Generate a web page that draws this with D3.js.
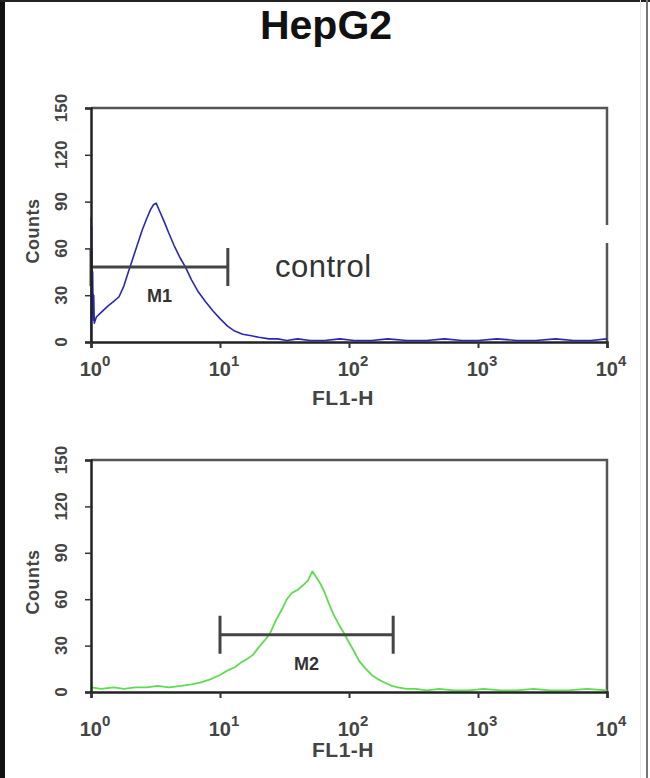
<!DOCTYPE html>
<html><head><meta charset="utf-8">
<script src="https://cdn.jsdelivr.net/npm/d3@7"></script>
<style>
html,body{margin:0;padding:0;background:#fff;}
svg{display:block;font-family:"Liberation Sans",Arial,sans-serif;}
</style></head><body>
<script>
// ---------- data ----------
const title = "HepG2";
const yTicks = [0, 30, 60, 90, 120, 150];
const yMinorTicks = [0,5,10,15,20,25,30,35,40,45,50,55,60,65,70,75,80,85,90,95,100,105,110,115,120,125,130,135,140,145,150];
const xTicks = [1, 10, 100, 1000, 10000];
const xTickExponents = ["0", "1", "2", "3", "4"];
const xMinorTicks = [2,3,4,5,6,7,8,9,20,30,40,50,60,70,80,90,200,300,400,500,600,700,800,900,2000,3000,4000,5000,6000,7000,8000,9000];
const xLabel = "FL1-H";
const yLabel = "Counts";

// control histogram (FL1-H intensity, counts)
const controlX = [1.00,1.004,1.008,1.012,1.016,1.02,1.025,1.03,1.04,1.05,1.06,1.1,1.2,1.35,1.5,1.65,1.8,1.95,2.1,2.3,2.5,2.7,2.9,3.05,3.2,3.4,3.7,4.0,4.4,4.9,5.4,6.0,6.8,7.7,8.8,10,11.5,13,15,17.5,20,24,28,33,40,50,65,85,110,150,200,280,400,550,750,1000,1400,2000,2800,4000,5500,7500,10000];
const controlY = [0,80,30,74,22,58,18,45,14,30,12,16,19,23,26,29,36,45,53,63,72,79,85,88,89,84,77,70,62,54,48,40,32,26,20,15,10,7,5,4,3,2,2,1,2,1,1,2,1,1,2,1,1,2,1,1,2,1,1,2,1,1,2];
const controlMarker = {label: "M1", from: 1, to: 11.5, level: 48};
const controlText = "control";

// stained histogram
const sampleX = [1,1.2,1.5,1.8,2.2,2.7,3.3,4,5,6,7,8.3,10,11.5,13,14.5,16,18,20,22,24.5,27,30,33,36,40,44,48,52,56,60,65,70,76,83,90,100,110,120,135,150,170,190,215,240,280,330,400,500,650,850,1100,1500,2000,2700,3600,5000,7000,10000];
const sampleY = [3,2,3,2,3,3,4,3,4,5,6,8,11,14,16,19,21,24,29,33,38,46,53,60,64,66,69,72,78,74,70,64,57,50,44,39,32,26,20,15,11,8,6,4,3,2,2,1,2,1,1,2,1,1,2,1,1,2,1];
const sampleMarker = {label: "M2", from: 10, to: 220, level: 37};

// ---------- drawing ----------
const W = 650, H = 778;
const svg = d3.select("body").append("svg").attr("width", W).attr("height", H);

// outer frame of the picture
svg.append("rect").attr("x",0).attr("y",0).attr("width",5).attr("height",H).attr("fill","#111");
svg.append("rect").attr("x",0).attr("y",0).attr("width",W).attr("height",2).attr("fill","#222");
svg.append("rect").attr("x",646).attr("y",0).attr("width",2).attr("height",H).attr("fill","#777");
svg.append("rect").attr("x",640).attr("y",0).attr("width",1).attr("height",H).attr("fill","#e6e6e6");

svg.append("text").attr("x",326).attr("y",39).attr("text-anchor","middle")
  .attr("font-size",41).attr("font-weight","bold").attr("fill","#111").text(title);

function panel(cfg){
  const left = 91, right = 607, top = cfg.top, bottom = cfg.bottom;
  const x = d3.scaleLog().domain([1,10000]).range([left,right]);
  const y = d3.scaleLinear().domain([0,150]).range([bottom,top]);
  const g = svg.append("g");

  // top and right frame
  g.append("path").attr("d",`M${left},${top}H${right}V${bottom}`)
    .attr("fill","none").attr("stroke","#555").attr("stroke-width",2.5);

  // histogram
  const data = cfg.xs.map((v,i)=>({v, c: cfg.ys[i]}));
  g.append("path").datum(data)
    .attr("d", d3.line().x(d=>x(d.v)).y(d=>y(d.c)))
    .attr("fill","none").attr("stroke",cfg.color).attr("stroke-width",cfg.width).attr("stroke-linejoin","round");

  // marker
  const m = cfg.marker, my = y(m.level);
  g.append("path").attr("d",`M${x(m.from)},${my}H${x(m.to)}M${x(m.from)},${my-19}V${my+19}M${x(m.to)},${my-19}V${my+19}`)
    .attr("fill","none").attr("stroke","#444").attr("stroke-width",3);
  g.append("text").attr("x",(x(m.from)+x(m.to))/2 + (cfg.labelShift||0)).attr("y",my+35)
    .attr("text-anchor","middle").attr("font-size",18).attr("font-weight","bold").attr("fill","#333").text(m.label);

  // y axis
  const ya = g.append("g").attr("transform",`translate(${left},0)`);
  ya.call(d3.axisLeft(y).tickValues(yMinorTicks).tickSize(3).tickFormat(""));
  ya.call(d3.axisLeft(y).tickValues(yTicks).tickSize(6).tickFormat(""));
  ya.selectAll("path.domain").attr("stroke","#222").attr("stroke-width",2.5);
  ya.selectAll(".tick line").attr("stroke","#333").attr("stroke-width",1.5);
  g.selectAll(".ylab").data(yTicks).enter().append("text")
    .attr("transform",d=>`translate(67,${y(d)}) rotate(-90)`)
    .attr("text-anchor","middle").attr("font-size",17).attr("font-weight","bold").attr("fill","#444").text(d=>d);
  g.append("text").attr("transform",`translate(39,${(top+bottom)/2+6}) rotate(-90)`)
    .attr("text-anchor","middle").attr("font-size",18).attr("font-weight","bold").attr("letter-spacing",0.5).attr("fill","#444").text(yLabel);

  // x axis
  const xa = g.append("g").attr("transform",`translate(0,${bottom})`);
  xa.call(d3.axisBottom(x).tickValues(xMinorTicks).tickSize(3).tickFormat(""));
  xa.call(d3.axisBottom(x).tickValues(xTicks).tickSize(6).tickFormat(""));
  xa.selectAll("path.domain").attr("stroke","#222").attr("stroke-width",2.5);
  xa.selectAll(".tick line").attr("stroke","#333").attr("stroke-width",2);
  const lab = g.selectAll(".xlab").data(xTicks).enter().append("text")
    .attr("x",d=>x(d)+4).attr("y",cfg.tickBase).attr("text-anchor","middle")
    .attr("font-size",20).attr("font-weight","bold").attr("fill","#444");
  lab.append("tspan").text("10");
  lab.append("tspan").attr("dy",-10).attr("font-size",15).text((d,i)=>xTickExponents[i]);
  g.append("text").attr("x",343).attr("y",cfg.labelBase).attr("text-anchor","middle")
    .attr("font-size",21).attr("font-weight","bold").attr("letter-spacing",0.5).attr("fill","#444").text(xLabel);
  return {x,y,g};
}

const p1 = panel({top:108,bottom:342,xs:controlX,ys:controlY,color:"#2828b8",width:1.6,marker:controlMarker,tickBase:376,labelBase:405,labelShift:0});
p1.g.append("text").attr("x",275).attr("y",277).attr("font-size",31).attr("letter-spacing",0.5).attr("fill","#333").text(controlText);
// small gap in the right frame of the upper panel
svg.append("rect").attr("x",604).attr("y",225).attr("width",6).attr("height",18).attr("fill","#fff");

const p2 = panel({top:460,bottom:692,xs:sampleX,ys:sampleY,color:"#5fdc50",width:1.8,marker:sampleMarker,tickBase:736,labelBase:757,labelShift:0});
</script>
</body></html>
